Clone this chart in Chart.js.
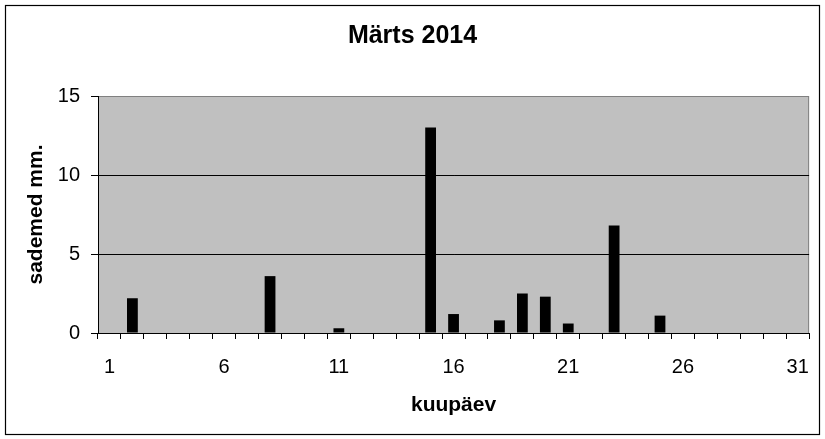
<!DOCTYPE html>
<html>
<head>
<meta charset="utf-8">
<script src="https://cdn.jsdelivr.net/npm/chart.js@4/dist/chart.umd.min.js"></script>
<style>
  html, body { margin: 0; padding: 0; background: #fff; }
  #wrap { width: 825px; height: 439px; }
</style>
</head>
<body>
<div id="wrap"><canvas id="rainChart"></canvas></div>
<script>
const days = [];
for (let d = 1; d <= 31; d++) days.push(String(d));

// sademed (mm) per day
const rain = [0, 2.2, 0, 0, 0, 0, 0, 3.6, 0, 0,
              0.3, 0, 0, 0, 13, 1.2, 0, 0.8, 2.5, 2.3,
              0.6, 0, 6.8, 0, 1.1, 0, 0, 0, 0, 0, 0];

const yTicks = [0, 5, 10, 15];

const font = "'Liberation Sans', Arial, sans-serif";

// grey plot area + outer frame
const frame = {
  id: "frame",
  beforeDraw(chart) {
    const { ctx, chartArea: a } = chart;
    ctx.save();
    ctx.fillStyle = "#fff";
    ctx.fillRect(0, 0, chart.width, chart.height);
    ctx.fillStyle = "#c0c0c0";
    ctx.fillRect(a.left, a.top, a.right - a.left, a.bottom - a.top);
    ctx.strokeStyle = "#808080";
    ctx.lineWidth = 1;
    ctx.strokeRect(a.left + 0.5, a.top + 0.5, a.right - a.left - 1, a.bottom - a.top);
    ctx.restore();
  },
  afterDraw(chart) {
    const ctx = chart.ctx;
    ctx.save();
    ctx.strokeStyle = "#000";
    ctx.lineWidth = 1.2;
    ctx.strokeRect(5.5, 5.5, 814, 429);
    ctx.restore();
  }
};

new Chart(document.getElementById("rainChart"), {
  type: "bar",
  data: {
    labels: days,
    datasets: [{
      data: rain,
      backgroundColor: "#000",
      borderWidth: 0,
      barPercentage: 0.47,
      categoryPercentage: 1
    }]
  },
  plugins: [frame],
  options: {
    responsive: true,
    maintainAspectRatio: false,
    animation: false,
    layout: { padding: 0 },
    plugins: {
      legend: { display: false },
      tooltip: { enabled: false },
      title: {
        display: true,
        text: "Märts 2014",
        color: "#000",
        font: { family: font, size: 25, weight: "bold" },
        padding: { top: 21, bottom: 45 }
      }
    },
    scales: {
      x: {
        offset: true,
        grid: { offset: true, drawOnChartArea: false, tickLength: 6, tickColor: "#000" },
        border: { color: "#000", width: 1 },
        ticks: {
          autoSkip: false,
          maxRotation: 0,
          padding: 16,
          color: "#000",
          font: { family: font, size: 20 },
          callback: (v, i) => (i % 5 === 0 ? days[i] : "")
        },
        title: {
          display: true,
          text: "kuupäev",
          color: "#000",
          font: { family: font, size: 21, weight: "bold" },
          padding: { top: 0, bottom: 21 }
        },
        afterFit: s => { s.height = 106; }
      },
      y: {
        min: 0,
        max: 15,
        afterBuildTicks: s => { s.ticks = yTicks.map(v => ({ value: v })); },
        grid: {
          color: c => (c.tick && (c.tick.value === 5 || c.tick.value === 10) ? "#000" : "rgba(0,0,0,0)"),
          tickColor: "#000",
          tickLength: 7
        },
        border: { color: "#000", width: 1 },
        ticks: {
          padding: 11,
          color: "#000",
          font: { family: font, size: 20 }
        },
        title: {
          display: true,
          text: "sademed mm.",
          color: "#000",
          font: { family: font, size: 21, weight: "bold" },
          padding: { top: 24, bottom: 0 }
        },
        afterFit: s => { s.width = 98; }
      },
      y2: {
        position: "right",
        display: true,
        grid: { display: false },
        border: { display: false },
        ticks: { display: false },
        afterFit: s => { s.width = 15; }
      }
    }
  }
});
</script>
</body>
</html>
